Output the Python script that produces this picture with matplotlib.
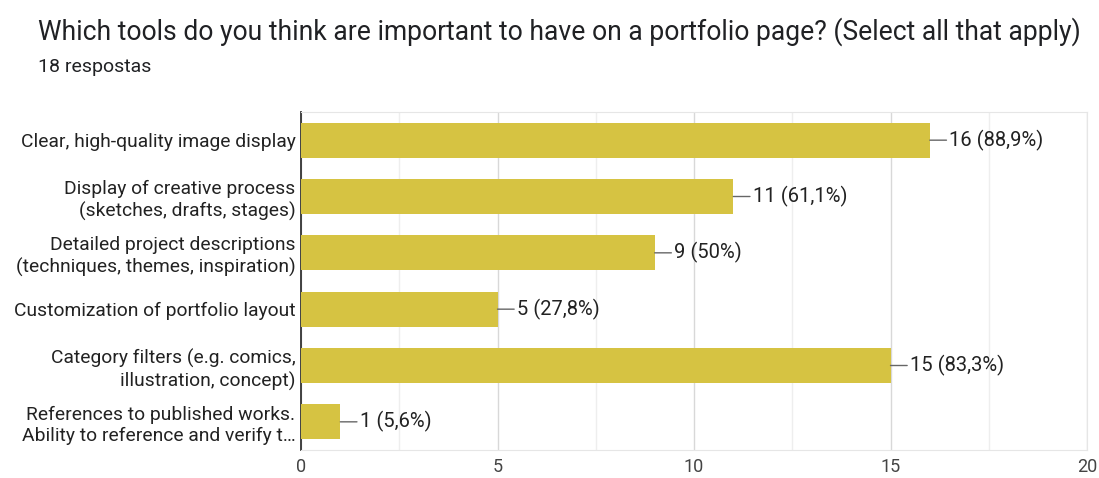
import matplotlib.pyplot as plt

categories = [
    "Clear, high-quality image display",
    "Display of creative process\n(sketches, drafts, stages)",
    "Detailed project descriptions\n(techniques, themes, inspiration)",
    "Customization of portfolio layout",
    "Category filters (e.g. comics,\nillustration, concept)",
    "References to published works.\nAbility to reference and verify t\u2026",
]
counts = [16, 11, 9, 5, 15, 1]
percents = ["88,9%", "61,1%", "50%", "27,8%", "83,3%", "5,6%"]
total = 18

plt.rcParams['font.family'] = ['Roboto', 'DejaVu Sans']

fig = plt.figure(figsize=(10.99, 4.78), dpi=100)
ax = fig.add_axes([301 / 1099, 1 - 450 / 478, 786 / 1099, 338 / 478])

ypos = list(range(len(categories)))
ax.barh(ypos, counts, height=0.62, color='#D6C342', zorder=3)

for y, c, p in zip(ypos, counts, percents):
    ax.annotate(f"{c} ({p})", xy=(c, y), xytext=(14, 0), textcoords='offset points',
                va='center', ha='left', fontsize=14.5, color='#222222',
                arrowprops=dict(arrowstyle='-', color='#666666', lw=1,
                                shrinkA=0, shrinkB=0))

ax.set_xlim(0, 20)
ax.set_ylim(len(categories) - 0.5, -0.5)
ax.set_yticks(ypos)
ax.set_yticklabels(categories, fontsize=13.9, color='#222222', linespacing=1.25)
ax.set_xticks([0, 5, 10, 15, 20])
ax.set_xticks([2.5, 7.5, 12.5, 17.5], minor=True)
ax.tick_params(axis='x', which='both', length=0, labelsize=13, labelcolor='#444444', pad=6)
ax.tick_params(axis='y', length=0, pad=4)
ax.grid(axis='x', which='major', color='#D8D8D8', lw=1, zorder=0)
ax.grid(axis='x', which='minor', color='#EEEEEE', lw=1, zorder=0)

for s in ['top', 'right', 'bottom']:
    ax.spines[s].set_color('#E6E6E6')
ax.spines['left'].set_color('#333333')
ax.spines['left'].set_linewidth(1.3)

fig.text(38 / 1099, 1 - 32 / 478,
         "Which tools do you think are important to have on a portfolio page? (Select all that apply)",
         fontsize=19.1, color='#202124', va='center', ha='left')
fig.text(38 / 1099, 1 - 67 / 478, f"{total} respostas", fontsize=14, color='#202124',
         va='center', ha='left')

fig.savefig("out.png", dpi=100)
